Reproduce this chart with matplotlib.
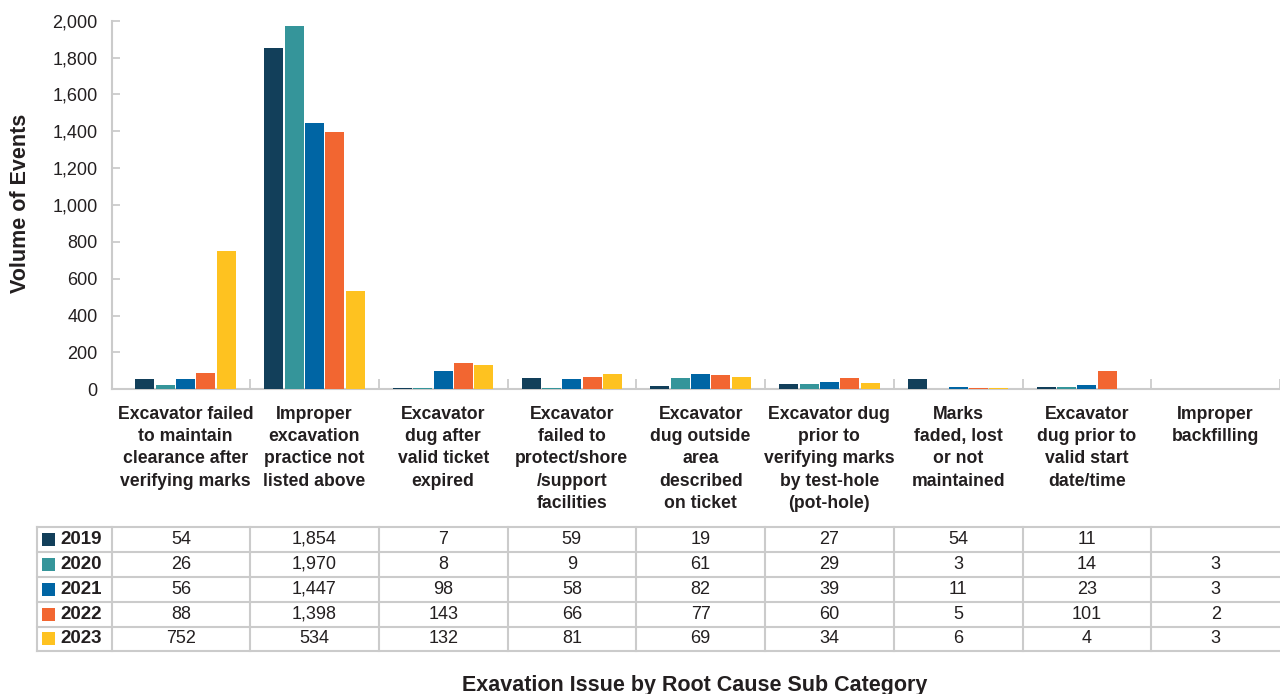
import numpy as np
import matplotlib
matplotlib.use("Agg")
import matplotlib.pyplot as plt
from matplotlib.patches import Rectangle
from matplotlib.lines import Line2D
from matplotlib.transforms import blended_transform_factory

# Root-cause sub categories (x axis / table columns)
categories = [
    "Excavator failed\nto maintain\nclearance after\nverifying marks",
    "Improper\nexcavation\npractice not\nlisted above",
    "Excavator\ndug after\nvalid ticket\nexpired",
    "Excavator\nfailed to\nprotect/shore\n/support\nfacilities",
    "Excavator\ndug outside\narea\ndescribed\non ticket",
    "Excavator dug\nprior to\nverifying marks\nby test-hole\n(pot-hole)",
    "Marks\nfaded, lost\nor not\nmaintained",
    "Excavator\ndug prior to\nvalid start\ndate/time",
    "Improper\nbackfilling",
]

years = ["2019", "2020", "2021", "2022", "2023"]

# Event counts per year (None = no value reported)
events_2019 = [54, 1854, 7, 59, 19, 27, 54, 11, None]
events_2020 = [26, 1970, 8, 9, 61, 29, 3, 14, 3]
events_2021 = [56, 1447, 98, 58, 82, 39, 11, 23, 3]
events_2022 = [88, 1398, 143, 66, 77, 60, 5, 101, 2]
events_2023 = [752, 534, 132, 81, 69, 34, 6, 4, 3]

series = [events_2019, events_2020, events_2021, events_2022, events_2023]
colors = ["#123f5a", "#35959a", "#0065a4", "#f26631", "#fec220"]

yticks = [0, 200, 400, 600, 800, 1000, 1200, 1400, 1600, 1800, 2000]

plt.rcParams["font.family"] = ["Liberation Sans", "DejaVu Sans"]
TEXT = "#231f20"
GRID = "#cbcbcb"

W, H = 1280, 694
fig = plt.figure(figsize=(W / 100, H / 100), dpi=100)

ax_left, ax_right, ax_bottom, ax_top = 112, 1280, 389.3, 20.7
ax = fig.add_axes([ax_left / W, 1 - ax_bottom / H,
                   (ax_right - ax_left) / W, (ax_bottom - ax_top) / H])

n = len(categories)
x = np.arange(n)
slot = 0.158
bar_w = 0.148
for k, (vals, col) in enumerate(zip(series, colors)):
    h = np.array([np.nan if v is None else v for v in vals], dtype=float)
    ax.bar(x + (k - 2) * slot, h, width=bar_w, color=col, linewidth=0,
           zorder=3)

xlim_left = 8.5 - (ax_right - ax_left) / 128.75
ax.set_xlim(xlim_left, n - 0.5)
ax.set_ylim(0, 2000)

for s in ("top", "right"):
    ax.spines[s].set_visible(False)
for s in ("left", "bottom"):
    ax.spines[s].set_color(GRID)
    ax.spines[s].set_linewidth(1.5)
    ax.spines[s].set_zorder(2)

ax.set_yticks(yticks)
ax.set_yticklabels([f"{v:,}" for v in yticks])
ax.tick_params(axis="y", direction="in", length=6, width=1.3, color=GRID,
               labelsize=13, labelcolor=TEXT, pad=10.5)

ax.set_xticks(np.arange(n) + 0.5)
ax.set_xticklabels([])
ax.tick_params(axis="x", direction="in", length=7, width=1.3, color=GRID)

# Category labels under the axis
btf = blended_transform_factory(ax.transData, fig.transFigure)
for i, lab in enumerate(categories):
    ax.text(i, 1 - 406 / H, lab, transform=btf, ha="center", va="top",
            fontsize=12.7, fontweight="bold", color=TEXT, linespacing=1.40,
            clip_on=False)

# Data table
row_edges = [526.7, 551.7, 576.7, 601.7, 626.7, 651.2]
col_edges = [xlim_left] + [i + 0.5 for i in range(n)]
col_centers = [(a + b) / 2 for a, b in zip(col_edges[:-1], col_edges[1:])]
tab_left = 37

for yp in row_edges:
    fig.add_artist(Line2D([tab_left / W, 1.0], [1 - yp / H, 1 - yp / H],
                          transform=fig.transFigure, color=GRID, lw=1.5))
for xp in (tab_left, ax_left):
    fig.add_artist(Line2D([xp / W, xp / W],
                          [1 - row_edges[0] / H, 1 - row_edges[-1] / H],
                          transform=fig.transFigure, color=GRID, lw=1.5))
for xe in col_edges[1:-1]:
    ax.add_line(Line2D([xe, xe], [1 - row_edges[0] / H, 1 - row_edges[-1] / H],
                       transform=btf, color=GRID, lw=1.5, clip_on=False))

for r, (yr, vals, col) in enumerate(zip(years, series, colors)):
    yc = (row_edges[r] + row_edges[r + 1]) / 2
    fig.add_artist(Rectangle((42 / W, 1 - (yc + 6.5) / H), 13 / W, 13 / H,
                             transform=fig.transFigure, facecolor=col,
                             edgecolor="none"))
    fig.text(60 / W, 1 - yc / H, yr, ha="left", va="center", fontsize=13.5,
             fontweight="bold", color=TEXT)
    for c, v in enumerate(vals):
        if v is None:
            continue
        ax.text(col_centers[c], 1 - yc / H, f"{v:,}", transform=btf,
                ha="center", va="center", fontsize=13, color=TEXT,
                clip_on=False)

fig.text(21 / W, 1 - 203 / H, "Volume of Events", rotation=90, ha="center",
         va="center", fontsize=15.5, fontweight="bold", color=TEXT)
fig.text(695 / W, 1 - 685 / H, "Exavation Issue by Root Cause Sub Category",
         ha="center", va="center", fontsize=15.5, fontweight="bold", color=TEXT)

fig.savefig("out.png", dpi=100, facecolor="white")
